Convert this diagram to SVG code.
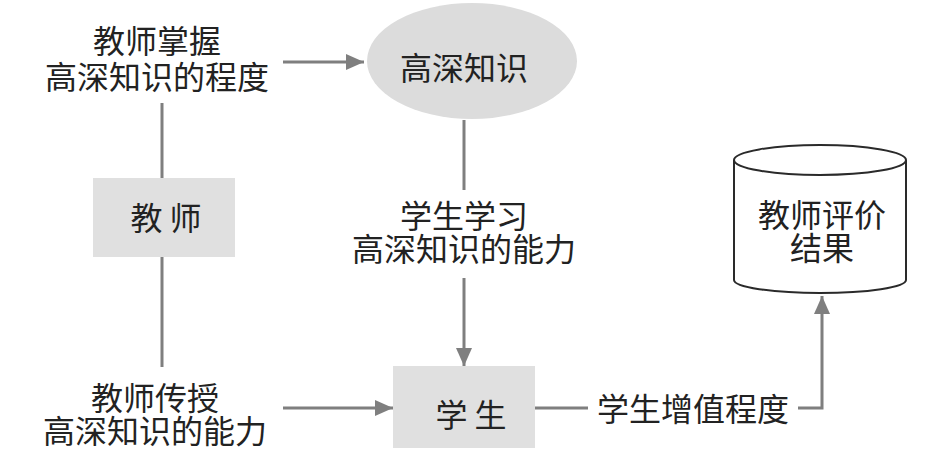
<svg xmlns="http://www.w3.org/2000/svg" width="945" height="451" viewBox="0 0 945 451">
<style>
.t{font-family:"Noto Sans CJK SC","Noto Sans CJK JP",sans-serif;font-size:32px;fill:#222;text-anchor:middle;dominant-baseline:central}
.box{fill:#e0e0e0}
.ln{stroke:#7f7f7f;stroke-width:3;fill:none}
.cyl{fill:#fff;stroke:#2a2a2a;stroke-width:2}
</style>
<defs>
<marker id="ah" markerWidth="18" markerHeight="16" refX="18" refY="8" orient="auto" markerUnits="userSpaceOnUse" viewBox="0 0 18 16">
<path d="M0,0 L18,8 L0,16 z" fill="#7f7f7f"/>
</marker>
</defs>
<rect width="945" height="451" fill="#fff"/>
<g id="connectors">
<path class="ln" d="M283,62 H364" marker-end="url(#ah)"/>
<path class="ln" d="M162,103 V178"/>
<path class="ln" d="M162,257 V367"/>
<path class="ln" d="M283,408 H393" marker-end="url(#ah)"/>
<path class="ln" d="M464,120 V190"/>
<path class="ln" d="M464,278 V366" marker-end="url(#ah)"/>
<path class="ln" d="M535,408 H588"/>
<path class="ln" d="M798,408 H822 V296" marker-end="url(#ah)"/>
</g>
<g id="label-master">
<text class="t" x="157" y="39">教师掌握</text>
<text class="t" x="157" y="75">高深知识的程度</text>
</g>
<g id="node-knowledge">
<ellipse cx="472" cy="61" rx="105" ry="58" fill="#dcdcdc"/>
<text class="t" x="464" y="66">高深知识</text>
</g>
<g id="node-teacher">
<rect class="box" x="93" y="178" width="142" height="79"/>
<text class="t" x="166" y="216">教 师</text>
</g>
<g id="label-learn">
<text class="t" x="464" y="214">学生学习</text>
<text class="t" x="464" y="247">高深知识的能力</text>
</g>
<g id="label-teach">
<text class="t" x="155" y="396">教师传授</text>
<text class="t" x="155" y="429">高深知识的能力</text>
</g>
<g id="node-student">
<rect class="box" x="393" y="366" width="142" height="82"/>
<text class="t" x="471" y="413">学 生</text>
</g>
<g id="label-value">
<text class="t" x="693" y="407">学生增值程度</text>
</g>
<g id="node-result">
<path class="cyl" d="M734,160 V280 A86,13 0 0 0 906,280 V160"/>
<ellipse class="cyl" cx="820" cy="160" rx="86" ry="15"/>
<text class="t" x="822" y="213">教师评价</text>
<text class="t" x="822" y="246">结果</text>
</g>
</svg>
